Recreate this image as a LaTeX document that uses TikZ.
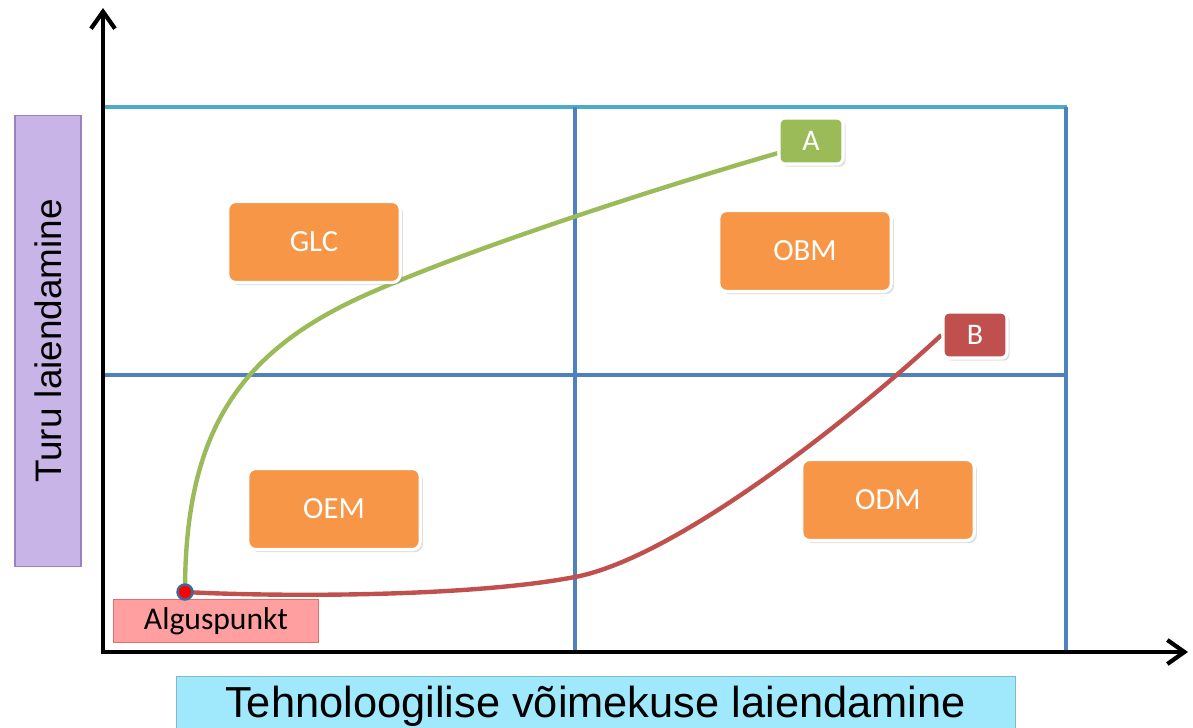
\documentclass[tikz,border=0pt]{standalone}
\usepackage{fontspec}
\setmainfont{Carlito}
\newfontfamily\arialfont{Liberation Sans}
\usetikzlibrary{arrows.meta,shadows,backgrounds}

\definecolor{quadorange}{HTML}{F79646}
\definecolor{pathgreen}{HTML}{9BBB59}
\definecolor{pathred}{HTML}{C0504D}
\definecolor{gridblue}{HTML}{4F81BD}
\definecolor{topcyan}{HTML}{4BACC6}
\definecolor{ylabfill}{HTML}{C9B4E8}
\definecolor{ylabdraw}{HTML}{9A82C0}
\definecolor{xlabfill}{HTML}{A0E9FC}
\definecolor{startfill}{HTML}{FF9F9F}
\definecolor{startdraw}{HTML}{E07070}

\tikzset{
    quad/.style={rounded corners=0.16cm, fill=quadorange, draw=white, line width=1.8pt,
        text=white, font=\fontsize{17.5}{19}\selectfont,
        minimum width=3.45cm, minimum height=1.62cm,
        drop shadow={shadow xshift=1.5pt, shadow yshift=-1.5pt, opacity=0.25}},
    goal/.style={rounded corners=0.12cm, draw=white, line width=1.8pt,
        text=white, font=\fontsize{17}{19}\selectfont,
        minimum width=1.28cm, minimum height=0.92cm,
        drop shadow={shadow xshift=1.5pt, shadow yshift=-1.5pt, opacity=0.25}},
    axlabel/.style={font=\arialfont, inner sep=0pt},
    trail/.style={line width=2.5pt},
}

\begin{document}
\begin{tikzpicture}[x=0.02cm, y=-0.02cm]
        \useasboundingbox (0,0) rectangle (1193,727);

        % axis labels
        \node[axlabel, font=\arialfont\fontsize{21}{24}\selectfont, fill=ylabfill, draw=ylabdraw, line width=0.6pt, rotate=90,
            minimum width=9.04cm, minimum height=1.32cm] (ylab) at (48,341) {Turu laiendamine};
        \node[axlabel, font=\arialfont\fontsize{24.7}{28}\selectfont, fill=xlabfill, draw=xlabfill!80!black, line width=0.4pt,
            minimum width=16.78cm, minimum height=1.2cm, anchor=north] (xlab) at (595.5,676) {\raisebox{0.5cm}{}Tehnoloogilise võimekuse laiendamine};

        % quadrants
        \node[quad] (glc) at (314,242) {GLC};
        \node[quad] (obm) at (805,251) {OBM};
        \node[quad] (oem) at (334,509) {OEM};
        \node[quad] (odm) at (888,500) {ODM};

        \node[goal, fill=pathgreen] (a) at (811,141) {A};
        \node[goal, fill=pathred] (b) at (975,335) {B};

        \node[fill=startfill, draw=startdraw, line width=0.8pt, font=\fontsize{18}{20}\selectfont,
            minimum width=4.1cm, minimum height=0.86cm] (alg) at (216,621) {Alguspunkt};
        \node[circle, fill=red, draw=gridblue!80!black, line width=1.4pt,
            minimum size=0.3cm, inner sep=0pt] (start) at (185,592) {};

        \coordinate (origin) at (103,652);
        \coordinate (ytip) at (103,8);
        \coordinate (xtip) at (1188,652);

        \begin{scope}[on background layer]
        \draw[topcyan, line width=1.8pt] (105,107) -- (1067,107);
        \draw[gridblue, line width=1.8pt] (105,375) -- (1066,375);
        \draw[gridblue, line width=1.8pt] (575,107) -- (575,650);
        \draw[gridblue, line width=1.8pt] (1066,107) -- (1066,650);

        \draw[line width=2.4pt, {Straight Barb[length=0.34cm,width=0.48cm]}-{Straight Barb[length=0.34cm,width=0.48cm]}]
            (ytip) -- (origin) -- (xtip);

        % the two routes
        \draw[trail, pathgreen] (start.center) .. controls (185,430) and (240,350) .. (370,293)
            .. controls (470,249) and (650,190) .. (a.200);
        \draw[trail, pathred] (start.center) .. controls (280,597) and (470,597) .. (575,577)
            .. controls (675,558) and (850,420) .. (b.west);
        \end{scope}
\end{tikzpicture}
\end{document}
